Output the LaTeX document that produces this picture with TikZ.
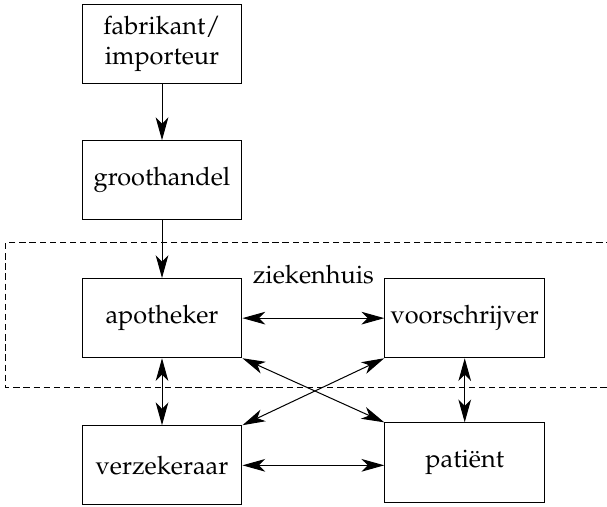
\documentclass[tikz,border=0pt]{standalone}
\usepackage[T1]{fontenc}
\usepackage{mathpazo}
\usetikzlibrary{arrows.meta, positioning, calc}

\begin{document}
\begin{tikzpicture}[
		node distance=0.80cm and 1.97cm,
		every node/.style={font=\normalsize},
		party/.style={draw, rectangle, minimum width=2.22cm, minimum height=1.10cm, align=center, inner sep=2pt},
		flow/.style={-{Stealth[length=9pt, width=5pt, inset=2.5pt]}},
		link/.style={{Stealth[length=9pt, width=5pt, inset=2.5pt]}-{Stealth[length=9pt, width=5pt, inset=2.5pt]}},
		zone/.style={draw, dash pattern=on 2.5pt off 1.5pt},
		thin, black
		]
		\useasboundingbox (-2.25,0.61) rectangle (6.18,-6.42);
		% Supply chain
		\node[party] at (0,0) (fabrikant) {fabrikant/\\importeur};
		\node[party, below = 0.78cm of fabrikant] (groothandel) {groothandel};
		\node[party, below = of groothandel] (apotheker) {apotheker};
		\node[party, right = of apotheker] (voorschrijver) {voorschrijver};
		\node[party, below = 0.93cm of apotheker] (verzekeraar) {verzekeraar};
		\node[party, below = 0.89cm of voorschrijver] (patient) {pati\"ent};
		
		% Hospital region
		\coordinate (zoneNE) at (6.4,-2.76);
		\coordinate (zoneNW) at (-2.17,-2.76);
		\coordinate (zoneSW) at (-2.17,-4.77);
		\coordinate (zoneSE) at (6.4,-4.77);
		\draw[zone] (zoneNE) -- (zoneNW) -- (zoneSW) -- (zoneSE);
		\node[anchor=base] at ($(apotheker.north)!0.5!(voorschrijver.north)+(0,-0.07)$) (ziekenhuis) {ziekenhuis};
		
		% Draw the arrows
		\draw[flow] (fabrikant) -- (groothandel);
		\draw[flow] (groothandel) -- (apotheker);
		\draw[link] (apotheker) -- (voorschrijver);
		\draw[link] (apotheker) -- (verzekeraar);
		\draw[link] (voorschrijver) -- (patient);
		\draw[link] (verzekeraar) -- (patient.west |- verzekeraar);
		\draw[link] (apotheker.south east) -- (patient.north west);
		\draw[link] (voorschrijver.south west) -- (verzekeraar.north east);
		
	\end{tikzpicture}
\end{document}
